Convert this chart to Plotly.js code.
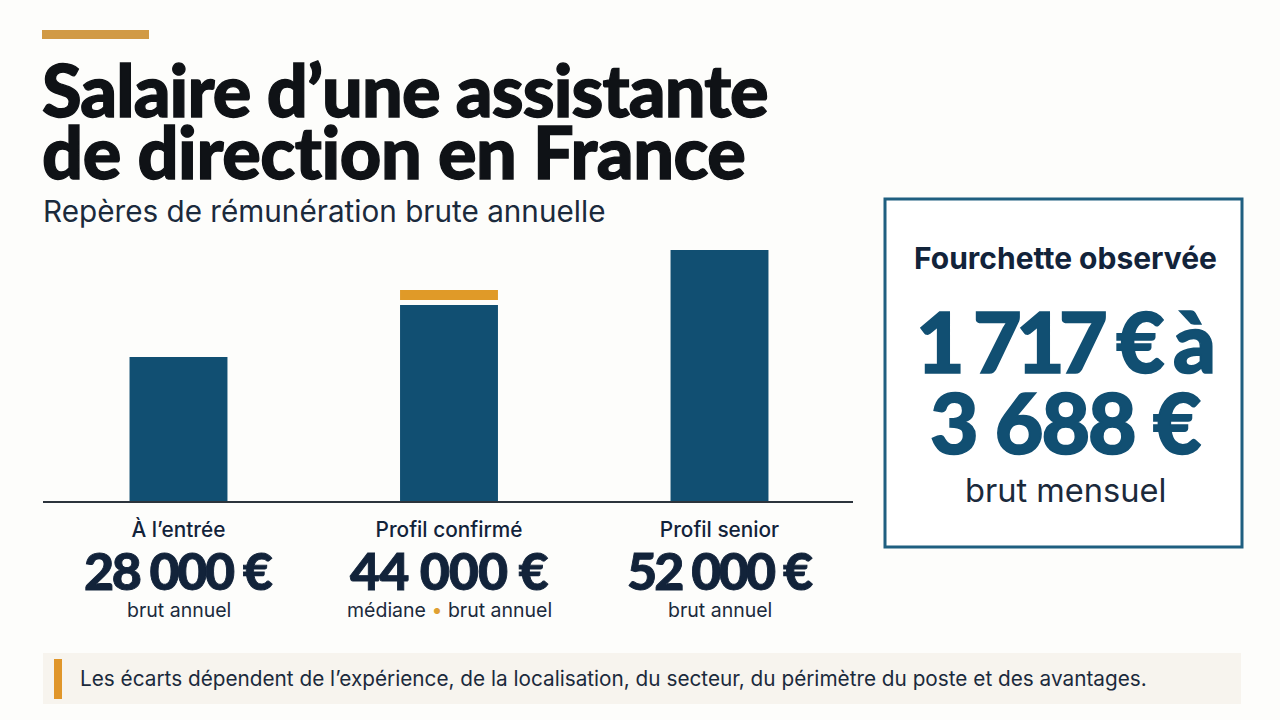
<!DOCTYPE html>
<html lang="fr">
<head>
<meta charset="utf-8">
<script src="https://cdn.plot.ly/plotly-3.0.1.min.js"></script>
<style>html,body{margin:0;padding:0;background:#fdfdfb;overflow:hidden}</style>
</head>
<body>
<div id="chart" style="width:1280px;height:720px"></div>
<script>
const categories = ["À l’entrée", "Profil confirmé", "Profil senior"];
const barHeights = [144, 196, 251];
const accentBase = [null, 201, null];
const accentHeight = [null, 10, null];
const valueLabels = ["28 000 €", "44 000 €", "52 000 €"];
const noteLabels = ["brut annuel", "médiane <span style=\"color:#dfa032\">•</span> brut annuel", "brut annuel"];
const titleLines = ["Salaire d’une assistante", "de direction en France"];
const subtitle = "Repères de rémunération brute annuelle";
const panelTitle = "Fourchette observée";
const panelLines = ["1 717 € à", "3 688 €"];
const panelNote = "brut mensuel";
const footnote = "Les écarts dépendent de l’expérience, de la localisation, du secteur, du périmètre du poste et des avantages.";

const L = 43, R = 853, T = 240, B = 501;
const px = x => (x - L) / (R - L);
const py = y => (B - y) / (B - T);
const FONT = "Inter, 'Noto Sans', sans-serif";
const HEAVY = "Lato, Inter, sans-serif";
const INK = "#0f1216", NAVY = "#12233a", BLUE = "#114f72", BODY = "#1b2a3c";
const valueTracking = [-2.4, -1, -2.8];

function heavy(text, spacing, color, stroke) {
  return '<span style="letter-spacing:' + spacing + 'px;stroke:' + color + ';stroke-width:' + stroke + 'px">' + text + '</span>';
}
function txt(x, y, text, size, color, weight, anchor, family) {
  return {xref:"paper", yref:"paper", x:px(x), y:py(y), text:text, showarrow:false, borderpad:0, borderwidth:0,
    xanchor:anchor || "center", yanchor:"middle",
    font:{family:family || FONT, size:size, color:color, weight:weight || 400}};
}
function rect(x0, y0, x1, y1, fill, line) {
  return {type:"rect", xref:"paper", yref:"paper", x0:px(x0), x1:px(x1), y0:py(y0), y1:py(y1),
    fillcolor:fill, line: line || {width:0}, layer:"below"};
}

const annotations = [
  txt(42, 89, heavy(titleLines[0], -0.9, INK, 1.3), 72, INK, 900, "left", HEAVY),
  txt(42, 151, heavy(titleLines[1], -0.45, INK, 1.3), 72, INK, 900, "left", HEAVY),
  txt(43, 211, subtitle, 29.7, BODY, 400, "left"),
  txt(1065, 258, panelTitle, 30, NAVY, 700),
  txt(1064, 340, heavy(panelLines[0], -5.8, BLUE, 1.6), 84, BLUE, 900, "center", HEAVY),
  txt(1065, 421, heavy(panelLines[1], -2, BLUE, 1.6), 84, BLUE, 900, "center", HEAVY),
  txt(1065, 490, panelNote, 32.6, BODY, 400),
  txt(80, 678, footnote, 20.75, BODY, 400, "left")
];
categories.forEach((c, i) => {
  annotations.push({xref:"x", yref:"paper", x:i, y:py(570), text:heavy(valueLabels[i], valueTracking[i], NAVY, 0.9), showarrow:false, borderpad:0,
    xanchor:"center", yanchor:"middle", font:{family:HEAVY, size:52, color:NAVY, weight:900}});
  annotations.push({xref:"x", yref:"paper", x:i, y:py(610), text:noteLabels[i], showarrow:false, borderpad:0,
    xanchor:"center", yanchor:"middle", font:{family:FONT, size:19.5, color:BODY}});
});

const traces = [
  {type:"bar", x:categories, y:barHeights, width:0.362, marker:{color:BLUE, line:{width:0}}, hoverinfo:"skip"},
  {type:"bar", x:categories, y:accentHeight, base:accentBase, width:0.362, marker:{color:"#e09a28", line:{width:0}}, hoverinfo:"skip"}
];
const layout = {
  width:1280, height:720, autosize:false, showlegend:false, barmode:"overlay",
  paper_bgcolor:"#fdfdfb", plot_bgcolor:"rgba(0,0,0,0)",
  margin:{l:L, r:1280-R, t:T, b:720-B, pad:0},
  xaxis:{type:"category", range:[-0.5009, 2.4935], fixedrange:true, showgrid:false, zeroline:false,
    showline:true, linecolor:"#2c343c", linewidth:1.5, ticks:"outside", ticklen:10, tickcolor:"rgba(0,0,0,0)",
    tickfont:{family:FONT, size:20.8, color:NAVY, weight:500}},
  yaxis:{range:[0, B - T], visible:false, fixedrange:true},
  shapes:[
    rect(42, 30, 149, 39, "#d19a45"),
    rect(885, 199, 1242, 547, "#ffffff", {color:"#1f5f80", width:3}),
    rect(43, 653, 1241, 704, "#f7f4ee"),
    rect(54, 659, 62, 699, "#e0962a")
  ],
  annotations:annotations
};
Plotly.newPlot("chart", traces, layout, {displayModeBar:false, staticPlot:true});
</script>
</body>
</html>
